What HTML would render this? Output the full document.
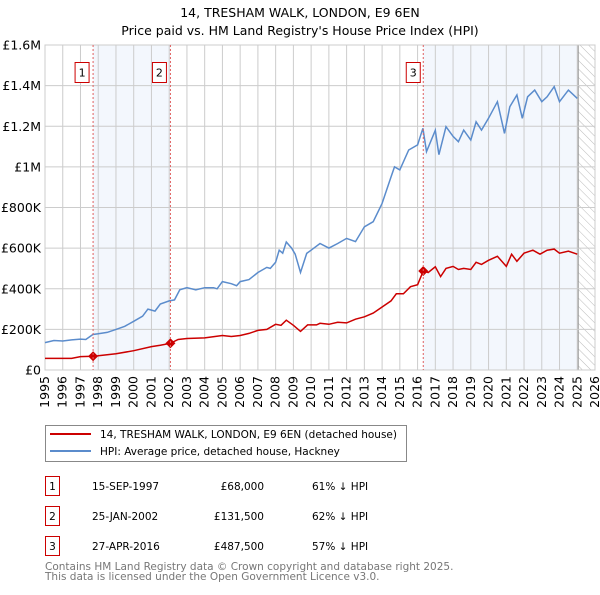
<!DOCTYPE html>
<html><head><meta charset="utf-8"><style>
body{margin:0;background:#fff;font-family:"Liberation Sans","DejaVu Sans",sans-serif;}
svg text{font-family:"DejaVu Sans","Liberation Sans",sans-serif;}
</style></head><body>
<svg id="chart" width="600" height="590" xmlns="http://www.w3.org/2000/svg">
<text x="300" y="17" text-anchor="middle" font-size="12.5" fill="#000">14, TRESHAM WALK, LONDON, E9 6EN</text>
<text x="300" y="35" text-anchor="middle" font-size="12.5" fill="#000">Price paid vs. HM Land Registry's House Price Index (HPI)</text>
<defs><pattern id="hatch" width="6" height="6" patternUnits="userSpaceOnUse" patternTransform="rotate(-45)"><line x1="0" y1="0" x2="0" y2="6" stroke="#bbb" stroke-width="1"/></pattern></defs>
<g id="shade"></g><g id="grid"></g><g id="axes"></g><g id="series"></g><g id="marks"></g>
<g>
<rect x="45.5" y="425.5" width="361" height="36" fill="#fff" stroke="#888"/>
<line x1="50" y1="434" x2="91" y2="434" stroke="#cc0000" stroke-width="2"/>
<text x="100" y="438" font-size="10.5">14, TRESHAM WALK, LONDON, E9 6EN (detached house)</text>
<line x1="50" y1="451" x2="91" y2="451" stroke="#5b8ccc" stroke-width="2"/>
<text x="100" y="455" font-size="10.5">HPI: Average price, detached house, Hackney</text>
</g>
<g id="table" font-size="10.5"></g>
<text x="45" y="570" font-size="10.5" fill="#777">Contains HM Land Registry data © Crown copyright and database right 2025.</text>
<text x="45" y="580" font-size="10.5" fill="#777">This data is licensed under the Open Government Licence v3.0.</text>
</svg>
<script>
const hpiYears=[1995,1995.5,1996,1996.5,1997,1997.3,1997.7,1998,1998.5,1999,1999.5,2000,2000.5,2000.8,2001,2001.2,2001.5,2002,2002.3,2002.6,2003,2003.5,2004,2004.5,2004.7,2005,2005.5,2005.8,2006,2006.5,2007,2007.5,2007.7,2008,2008.2,2008.4,2008.6,2008.9,2009.1,2009.4,2009.75,2010,2010.5,2011,2011.5,2012,2012.5,2013,2013.5,2014,2014.5,2014.7,2015,2015.5,2016,2016.3,2016.5,2017,2017.2,2017.6,2018,2018.3,2018.6,2019,2019.3,2019.6,2020,2020.5,2020.9,2021.2,2021.6,2021.9,2022.2,2022.6,2023,2023.3,2023.7,2024,2024.5,2025];
const hpiValues=[135,145,143,148,152,150,175,178,185,200,215,240,265,300,295,290,325,340,345,395,405,395,405,405,400,435,425,415,435,445,480,505,500,530,590,575,630,600,570,480,574,590,623,600,623,648,632,705,730,820,950,1000,985,1083,1108,1190,1075,1180,1060,1198,1150,1124,1181,1132,1222,1181,1239,1321,1165,1296,1354,1239,1345,1378,1321,1345,1395,1321,1378,1337];
const ppYears=[1995,1996.5,1997,1997.71,1998,1999,2000,2001,2001.5,2002.07,2002.5,2003,2004,2005,2005.5,2006,2006.5,2007,2007.5,2008,2008.3,2008.6,2009,2009.4,2009.8,2010.3,2010.5,2011,2011.5,2012,2012.5,2013,2013.5,2014,2014.5,2014.8,2015.2,2015.6,2016,2016.32,2016.6,2017,2017.3,2017.6,2018,2018.3,2018.6,2019,2019.3,2019.6,2020,2020.5,2021,2021.3,2021.6,2022,2022.5,2022.9,2023.3,2023.7,2024,2024.5,2025];
const ppValues=[57,57,66,68,70,80,95,115,122,131.5,150,155,158,170,165,170,180,195,200,225,220,245,220,190,222,222,230,225,235,232,250,262,280,310,340,375,375,410,420,487.5,480,508,460,500,510,495,500,495,530,520,540,560,510,570,535,575,590,570,590,595,575,585,570];
const saleYears=[1997.71,2002.07,2016.32];
const saleValues=[68,131.5,487.5];
const saleLabels=["1","2","3"];
const saleDates=["15-SEP-1997","25-JAN-2002","27-APR-2016"];
const salePrices=["£68,000","£131,500","£487,500"];
const saleDiffs=["61% ↓ HPI","62% ↓ HPI","57% ↓ HPI"];
const yTicks=[0,200,400,600,800,1000,1200,1400,1600];
const yTickLabels=["£0","£200K","£400K","£600K","£800K","£1M","£1.2M","£1.4M","£1.6M"];
const xTicks=[1995,1996,1997,1998,1999,2000,2001,2002,2003,2004,2005,2006,2007,2008,2009,2010,2011,2012,2013,2014,2015,2016,2017,2018,2019,2020,2021,2022,2023,2024,2025,2026];

const L=45,R=595,T=45,B=370,X0=1995,X1=2026,YMAX=1600;
const xs=y=>L+(y-X0)/(X1-X0)*(R-L);
const ys=v=>B-v/YMAX*(B-T);
const NS="http://www.w3.org/2000/svg";
function mk(tag,attrs,parent,txt){const e=document.createElementNS(NS,tag);for(const k in attrs)e.setAttribute(k,attrs[k]);if(txt!==undefined)e.textContent=txt;document.getElementById(parent).appendChild(e);return e;}
let e;
e=mk('rect',{x:xs(saleYears[0]),y:T,width:xs(saleYears[1])-xs(saleYears[0]),height:B-T,fill:'#eef3fc',opacity:0.7},'shade');


const dataEnd=2025.05;
e=mk('rect',{x:xs(saleYears[2]),y:T,width:xs(dataEnd)-xs(saleYears[2]),height:B-T,fill:'#eef3fc',opacity:0.7},'shade');


e=mk('rect',{x:xs(dataEnd),y:T,width:R-xs(dataEnd),height:B-T,fill:'url(#hatch)'},'shade');


e=mk('line',{x1:xs(dataEnd),y1:T,x2:xs(dataEnd),y2:B,stroke:'#999','stroke-width':1.2},'shade');


xTicks.forEach(t=>{
 e=mk('line',{x1:xs(t),y1:T,x2:xs(t),y2:B,stroke:'#ccc','stroke-width':1},'grid');
 
 
 const x=xs(t);
 e=mk('text',{x:x+4,y:B+6,'font-size':12.5,'text-anchor':'end',transform:`rotate(-90 ${x+4} ${B+6})`},'axes',String(t));
 
 
});
yTicks.forEach((t,i)=>{
 e=mk('line',{x1:L,y1:ys(t),x2:R,y2:ys(t),stroke:'#ccc','stroke-width':1},'grid');
 
 
 e=mk('text',{x:L-4,y:ys(t)+4.5,'font-size':12.5,'text-anchor':'end'},'axes',yTickLabels[i]);
 
 
});
saleYears.forEach((s,i)=>{
 e=mk('line',{x1:xs(s),y1:T,x2:xs(s),y2:B,stroke:'#e06060','stroke-width':1,'stroke-dasharray':'2,2'},'marks');
 
 
 const bx=xs(s)-(i==2?10:4)-14+(i==2?7:0);
 e=mk('rect',{x:bx,y:62.5,width:14,height:20,fill:'#fff',stroke:'#cc0000'},'marks');
 
 
 e=mk('text',{x:bx+7,y:76.5,'font-size':11,'text-anchor':'middle'},'marks',saleLabels[i]);
 
 
});
e=mk('path',{d:hpiYears.map((y,i)=>(i?'L':'M')+xs(y).toFixed(1)+','+ys(hpiValues[i]).toFixed(1)).join(''),fill:'none',stroke:'#5b8ccc','stroke-width':1.5},'series');


e=mk('path',{d:ppYears.map((y,i)=>(i?'L':'M')+xs(y).toFixed(1)+','+ys(ppValues[i]).toFixed(1)).join(''),fill:'none',stroke:'#cc0000','stroke-width':1.5},'series');


saleYears.forEach((s,i)=>{
 const x=xs(s),y=ys(saleValues[i]);
 e=mk('path',{d:`M${x},${y-5}L${x+5},${y}L${x},${y+5}L${x-5},${y}Z`,fill:'#cc0000'},'series');
 
 
});
e=mk('rect',{x:L,y:T,width:R-L,height:B-T,fill:'none',stroke:'#ccc'},'axes');


saleLabels.forEach((lab,i)=>{
 const y0=476+i*30;
 e=mk('rect',{x:45.5,y:y0+0.5,width:14,height:19,fill:'#fff',stroke:'#cc0000'},'table');
 
 
 e=mk('text',{x:52.5,y:y0+14,'text-anchor':'middle'},'table',lab);
 
 
 e=mk('text',{x:92,y:y0+14},'table',saleDates[i]);
 
 
 e=mk('text',{x:264,y:y0+14,'text-anchor':'end'},'table',salePrices[i]);
 
 
 e=mk('text',{x:312,y:y0+14},'table',saleDiffs[i]);
 
 
});
</script>
</body></html>
